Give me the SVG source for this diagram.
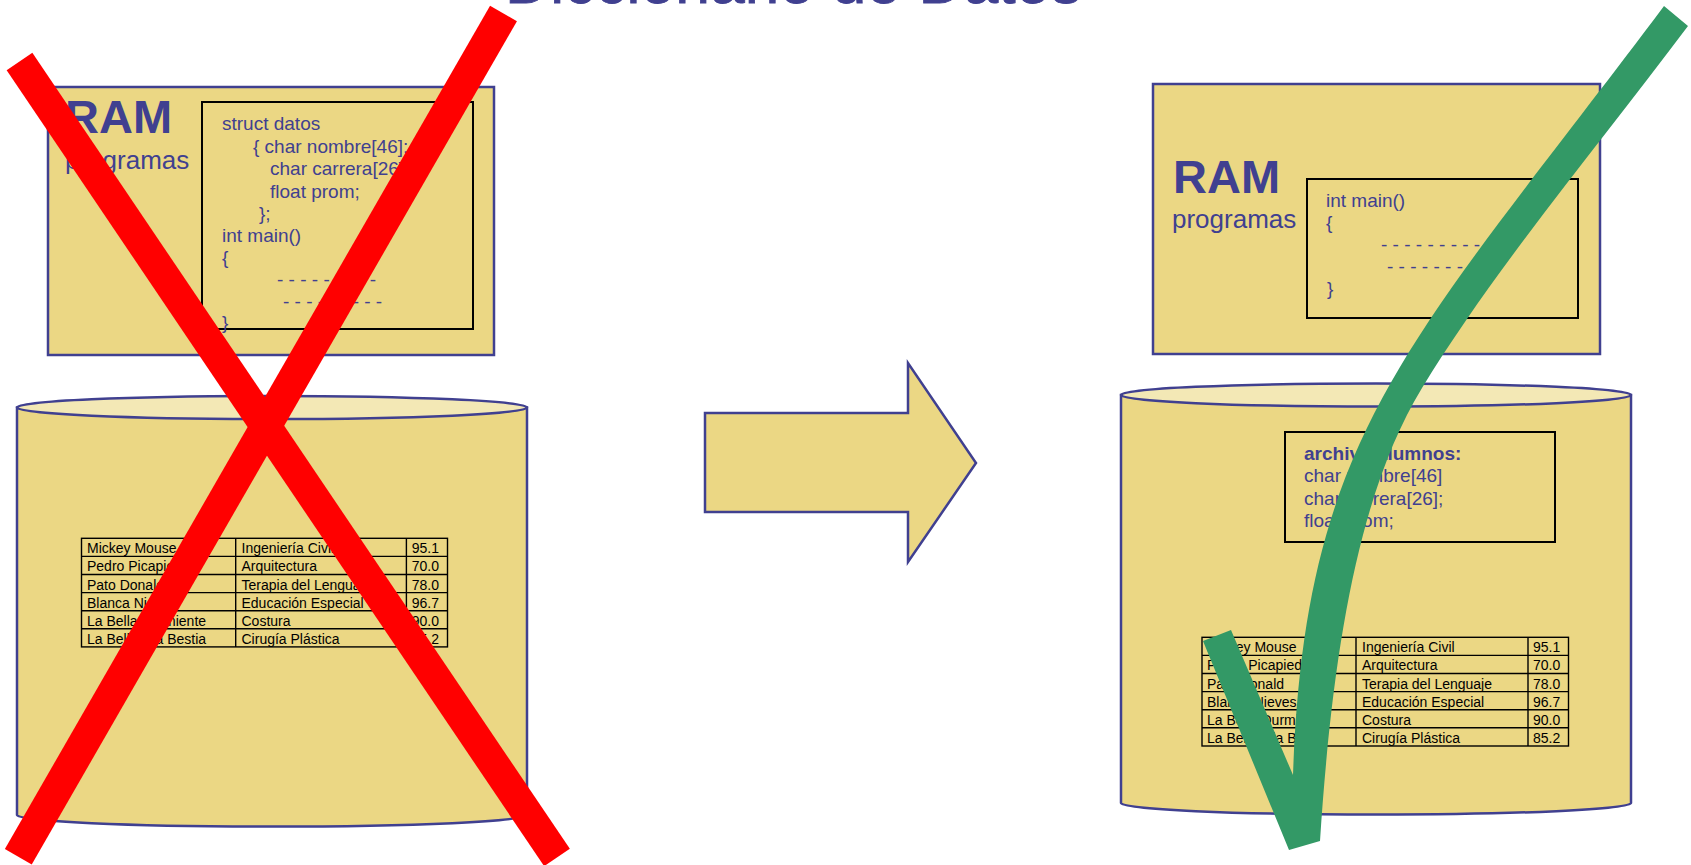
<svg xmlns="http://www.w3.org/2000/svg" width="1691" height="865" viewBox="0 0 1691 865">
<style>
.box{fill:#EBD784;stroke:#404090;stroke-width:2.5}
.top{fill:#F3E8B5;stroke:#404090;stroke-width:2.5}
.inner{fill:none;stroke:#000;stroke-width:2}
.t{font-family:"Liberation Sans",Arial,sans-serif;fill:#404090}
.ram{font-size:47px;font-weight:bold}
.prog{font-size:26px}
.code{font-size:19px}
.b{font-weight:bold}
.tb{font-family:"Liberation Sans",Arial,sans-serif;font-size:14px;fill:#000}
.grid{fill:none;stroke:#000;stroke-width:1.4}
.red{stroke:#FF0000;stroke-width:31;stroke-linecap:butt;fill:none}
</style>

<g id="title">
<text class="t" x="505" y="3" font-size="62.5" stroke="#404090" stroke-width="0.8">Diccionario de Datos</text>
</g>

<g id="ram-left">
<rect class="box" x="48" y="87" width="446" height="268"/>
<text class="t ram" x="65" y="133">RAM</text>
<text class="t prog" x="65" y="169">programas</text>
</g>

<g id="code-left">
<rect class="inner" x="202" y="102" width="271" height="227"/>
<text class="t code" x="222" y="130">struct datos</text>
<text class="t code" x="253" y="153">{ char nombre[46];</text>
<text class="t code" x="270" y="175">char carrera[26];</text>
<text class="t code" x="270" y="198">float prom;</text>
<text class="t code" x="259" y="220">};</text>
<text class="t code" x="222" y="242">int main()</text>
<text class="t code" x="222" y="264">{</text>
<text class="t code" x="277" y="286">- - - - - - - - -</text>
<text class="t code" x="283" y="308">- - - - - - - - -</text>
<text class="t code" x="222" y="329">}</text>
</g>

<g id="db-left">
<path class="box" d="M17,407.5 L17,815 A255,11.5 0 0 0 527,815 L527,407.5 Z"/>
<ellipse class="top" cx="272" cy="407.5" rx="255" ry="11.5"/>
</g>

<g id="table-left">
<rect class="grid" x="81.5" y="538.3" width="366" height="108.6"/>
<path class="grid" d="M235.7,538.3V646.9M406.4,538.3V646.9M81.5,556.4H447.5M81.5,574.5H447.5M81.5,592.6H447.5M81.5,610.7H447.5M81.5,628.8H447.5"/>
<text class="tb" x="87" y="553.3">Mickey Mouse</text>
<text class="tb" x="87" y="571.4">Pedro Picapiedra</text>
<text class="tb" x="87" y="589.5">Pato Donald</text>
<text class="tb" x="87" y="607.6">Blanca Nieves</text>
<text class="tb" x="87" y="625.7">La Bella Durmiente</text>
<text class="tb" x="87" y="643.8">La Bella y la Bestia</text>
<text class="tb" x="241.5" y="553.3">Ingeniería Civil</text>
<text class="tb" x="241.5" y="571.4">Arquitectura</text>
<text class="tb" x="241.5" y="589.5">Terapia del Lenguaje</text>
<text class="tb" x="241.5" y="607.6">Educación Especial</text>
<text class="tb" x="241.5" y="625.7">Costura</text>
<text class="tb" x="241.5" y="643.8">Cirugía Plástica</text>
<text class="tb" x="411.8" y="553.3">95.1</text>
<text class="tb" x="411.8" y="571.4">70.0</text>
<text class="tb" x="411.8" y="589.5">78.0</text>
<text class="tb" x="411.8" y="607.6">96.7</text>
<text class="tb" x="411.8" y="625.7">90.0</text>
<text class="tb" x="411.8" y="643.8">85.2</text>
</g>

<g id="connectors">
<polygon class="box" stroke-width="3" points="705,413 908,413 908,363 976,463 908,562 908,512 705,512"/>
</g>

<g id="ram-right">
<rect class="box" x="1153" y="84" width="447" height="270"/>
<text class="t ram" x="1173" y="193" font-size="48">RAM</text>
<text class="t prog" x="1172" y="228">programas</text>
</g>

<g id="code-right">
<rect class="inner" x="1307" y="179" width="271" height="139"/>
<text class="t code" x="1326" y="207">int main()</text>
<text class="t code" x="1326" y="229">{</text>
<text class="t code" x="1381" y="251">- - - - - - - - -</text>
<text class="t code" x="1387" y="273">- - - - - - - - -</text>
<text class="t code" x="1327" y="295">}</text>
</g>

<g id="db-right">
<path class="box" d="M1121,395 L1121,803 A255,11.5 0 0 0 1631,803 L1631,395 Z"/>
<ellipse class="top" cx="1376" cy="395" rx="255" ry="11.5"/>
</g>

<g id="dict-right">
<rect class="inner" x="1285" y="432" width="270" height="110"/>
<text class="t code b" x="1304" y="460">archivo alumnos:</text>
<text class="t code" x="1304" y="482">char nombre[46]</text>
<text class="t code" x="1304" y="505">char carrera[26];</text>
<text class="t code" x="1304" y="527">float prom;</text>
</g>

<g id="table-right">
<rect class="grid" x="1202" y="637.3" width="366.5" height="108.7"/>
<path class="grid" d="M1356,637.3V746M1528,637.3V746M1202,655.4H1568.5M1202,673.5H1568.5M1202,691.6H1568.5M1202,709.7H1568.5M1202,727.8H1568.5"/>
<text class="tb" x="1207" y="652.3">Mickey Mouse</text>
<text class="tb" x="1207" y="670.4">Pedro Picapiedra</text>
<text class="tb" x="1207" y="688.5">Pato Donald</text>
<text class="tb" x="1207" y="706.6">Blanca Nieves</text>
<text class="tb" x="1207" y="724.7">La Bella Durmiente</text>
<text class="tb" x="1207" y="742.8">La Bella y la Bestia</text>
<text class="tb" x="1362" y="652.3">Ingeniería Civil</text>
<text class="tb" x="1362" y="670.4">Arquitectura</text>
<text class="tb" x="1362" y="688.5">Terapia del Lenguaje</text>
<text class="tb" x="1362" y="706.6">Educación Especial</text>
<text class="tb" x="1362" y="724.7">Costura</text>
<text class="tb" x="1362" y="742.8">Cirugía Plástica</text>
<text class="tb" x="1533" y="652.3">95.1</text>
<text class="tb" x="1533" y="670.4">70.0</text>
<text class="tb" x="1533" y="688.5">78.0</text>
<text class="tb" x="1533" y="706.6">96.7</text>
<text class="tb" x="1533" y="724.7">90.0</text>
<text class="tb" x="1533" y="742.8">85.2</text>
</g>

<g id="cross">
<line class="red" x1="19.5" y1="61.5" x2="557" y2="857.5"/>
<line class="red" x1="503.5" y1="13.5" x2="18.3" y2="856.7"/>
</g>

<g id="check">
<path fill="#339966" d="M1664,6 C1410,345 1305,430 1293,775 L1231,630 L1203,641 L1289,850 L1320,841 C1333,641 1361,488 1422,388 C1495.2,268 1598,146 1688,26 Z"/>
</g>
</svg>
